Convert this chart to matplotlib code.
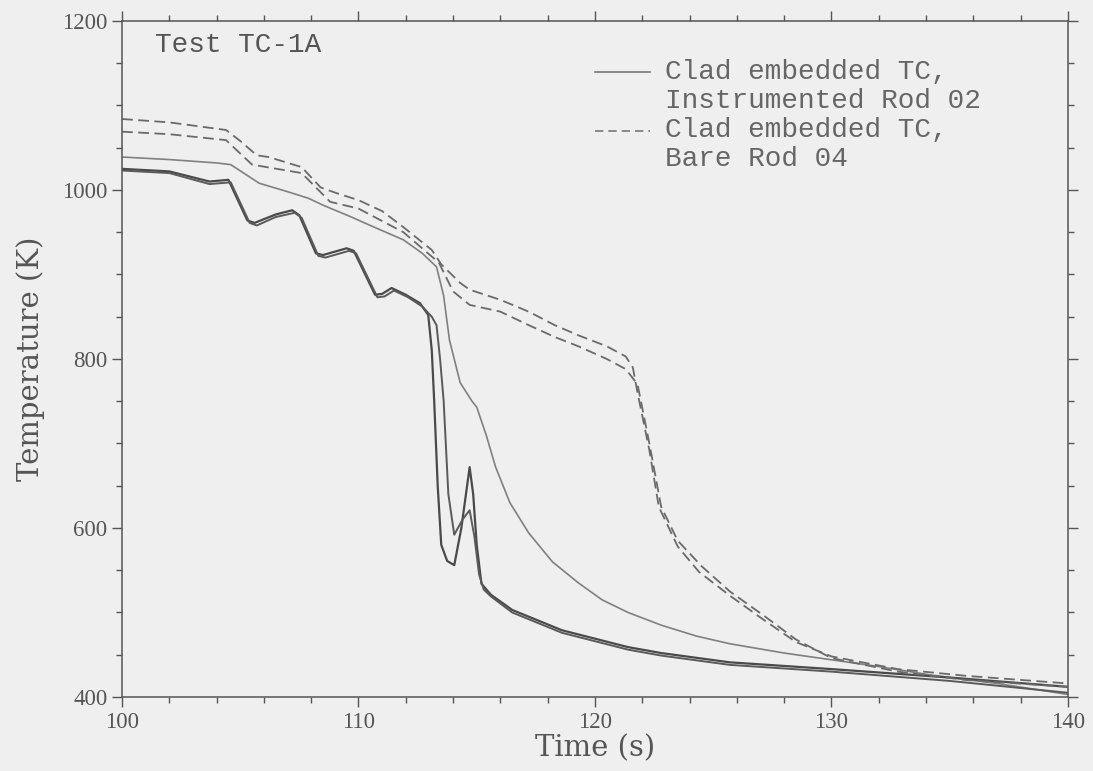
import numpy as np
import matplotlib
matplotlib.use("Agg")
import matplotlib.pyplot as plt
from matplotlib.ticker import MultipleLocator

# Test TC-1A, clad embedded thermocouples ####################################

# instrumented rod 02, thick pair (two traces drawn almost on top of each other)
t_a1 = [100, 102, 103.7, 104.5, 105.3, 105.6, 106.5, 107.2, 107.5, 108.2, 108.5,
        109.5, 109.8, 110.7, 111.0, 111.4, 112.0, 112.6, 112.95, 113.1, 113.2,
        113.35, 113.5, 113.75, 114.05, 114.35, 114.7, 114.85, 115.0, 115.2,
        115.6, 116.5, 118.6, 121.4, 122.8, 125.7, 130, 135, 140]
T_a1 = [1025, 1022, 1010, 1012, 964, 961, 971, 976, 970, 925, 923,
        931, 928, 876, 877, 884, 876, 866, 852, 810, 751,
        650, 580, 561, 556, 600, 672, 640, 580, 534,
        521, 503, 479, 459, 452, 441, 433, 423, 412]

t_a2 = [100, 102, 103.7, 104.6, 105.4, 105.7, 106.5, 107.3, 107.6, 108.3, 108.6,
        109.6, 109.9, 110.8, 111.1, 111.5, 112.1, 112.7, 113.1, 113.3, 113.45,
        113.6, 113.8, 114.05, 114.4, 114.7, 114.9, 115.1, 115.3, 115.6, 116.5,
        118.6, 121.4, 122.8, 125.7, 130, 135, 140]
T_a2 = [1023, 1020, 1007, 1009, 961, 958, 968, 973, 967, 922, 920,
        928, 925, 873, 874, 881, 873, 862, 850, 840, 800,
        751, 640, 592, 610, 621, 590, 545, 527, 519, 500,
        476, 456, 449, 438, 430, 419, 405]

# instrumented rod 02, thin trace
t_b = [100, 102, 104, 104.6, 105.8, 107.0, 107.9, 108.5, 109.7, 110.5, 111.9,
       112.7, 113.3, 113.6, 113.85, 114.3, 114.8, 115.0, 115.4, 115.8, 116.4,
       117.2, 118.2, 119.3, 120.3, 121.4, 122.8, 124.3, 125.7, 128, 130, 132,
       134.2, 137, 140]
T_b = [1039, 1036, 1032, 1030, 1008, 998, 990, 982, 968, 958, 941,
       925, 909, 875, 822, 772, 750, 743, 710, 672, 630,
       594, 560, 535, 515, 500, 485, 472, 463, 452, 444, 436,
       426, 416, 403]

# bare rod 04, dashed traces
t_d1 = [100, 102, 104.4, 105.0, 105.7, 106.2, 107.6, 108.4, 109.1, 110, 111.0,
        111.9, 113.1, 113.5, 114.3, 114.7, 116.0, 117.2, 118.3, 119.3, 120.5,
        121.3, 121.6, 121.8, 122.3, 122.7, 123.5, 124.4, 125.7, 127.2, 128.5,
        130, 132.8, 135.7, 140]
T_d1 = [1084, 1080, 1071, 1058, 1041, 1039, 1027, 1003, 996, 988, 975,
        956, 929, 912, 890, 882, 870, 856, 840, 828, 815,
        803, 790, 760, 692, 625, 578, 548, 520, 490, 465,
        448, 433, 425, 416]

t_d2 = [100, 102, 104.4, 105.5, 107.6, 108.8, 110, 111.9, 113.4, 114.0, 114.7,
        116.0, 117.2, 118.3, 119.3, 120.5, 121.3, 121.8, 122.3, 122.8, 123.5,
        124.5, 125.7, 127.2, 128.5, 130, 132.8, 135.7, 140]
T_d2 = [1069, 1066, 1059, 1030, 1020, 986, 978, 950, 914, 880, 864,
        856, 840, 826, 815, 800, 788, 770, 700, 625, 585,
        555, 525, 495, 468, 446, 430, 420, 412]

bg = '#efefef'
ink = '#555555'
mono = 'Liberation Mono'
serif = 'DejaVu Serif'

fig = plt.figure(figsize=(10.93, 7.71), dpi=100, facecolor=bg)
ax = fig.add_axes([0.1116, 0.096, 0.8655, 0.8768], facecolor=bg)

ax.plot(t_b, T_b, color='#808080', lw=1.2)
ax.plot(t_a1, T_a1, color='#4a4a4a', lw=1.6)
ax.plot(t_a2, T_a2, color='#5a5a5a', lw=1.4)
ax.plot(t_d1, T_d1, color='#6a6a6a', lw=1.3, ls=(0, (6, 3)))
ax.plot(t_d2, T_d2, color='#6a6a6a', lw=1.3, ls=(0, (6, 3)))

ax.set_xlim(100, 140)
ax.set_ylim(400, 1200)
ax.xaxis.set_major_locator(MultipleLocator(10))
ax.xaxis.set_minor_locator(MultipleLocator(2))
ax.yaxis.set_major_locator(MultipleLocator(200))
ax.yaxis.set_minor_locator(MultipleLocator(50))
ax.tick_params(which='both', direction='out', top=True, right=True,
               colors=ink, width=1)
ax.tick_params(which='major', length=7)
ax.tick_params(which='minor', length=4)
for lab in ax.get_xticklabels() + ax.get_yticklabels():
    lab.set_fontfamily('Liberation Serif')
    lab.set_fontsize(16.5)
    lab.set_color(ink)
for s in ax.spines.values():
    s.set_color(ink)
    s.set_linewidth(1.1)

ax.set_xlabel('Time (s)', fontsize=21, family=serif, color=ink, labelpad=1)
ax.set_ylabel('Temperature (K)', fontsize=21, family=serif, color=ink, labelpad=12)

# annotation and hand made legend
ax.text(0.035, 0.9645, 'Test TC-1A', transform=ax.transAxes, fontsize=20,
        family=mono, color=ink, va='center', ha='left')

ax.plot([0.5, 0.558], [0.9246, 0.9246], transform=ax.transAxes,
        color='#777777', lw=1.2)
ax.plot([0.5, 0.558], [0.837, 0.837], transform=ax.transAxes,
        color='#777777', lw=1.2, ls=(0, (5, 3)))
leg_lines = ['Clad embedded TC,', 'Instrumented Rod 02',
             'Clad embedded TC,', 'Bare Rod 04']
leg_y = [0.9246, 0.8817, 0.8388, 0.7959]
for txt, yy in zip(leg_lines, leg_y):
    ax.text(0.574, yy, txt, transform=ax.transAxes, fontsize=20,
            family=mono, color='#666666', va='center', ha='left')

plt.savefig('out.png', dpi=100, facecolor=bg)
